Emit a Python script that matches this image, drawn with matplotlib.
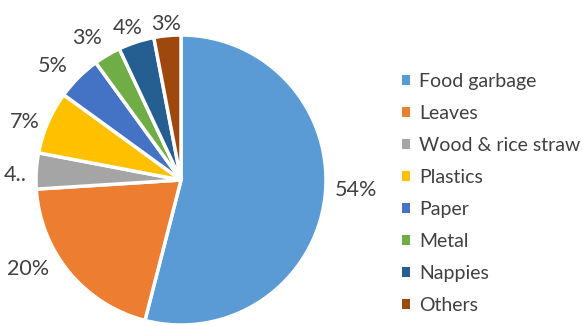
import numpy as np
import matplotlib
matplotlib.use("Agg")
import matplotlib.pyplot as plt
from matplotlib.patches import Patch

categories = ["Food garbage", "Leaves", "Wood & rice straw", "Plastics",
              "Paper", "Metal", "Nappies", "Others"]
shares = [54, 20, 4, 7, 5, 3, 4, 3]
labels = ["54%", "20%", "4..", "7%", "5%", "3%", "4%", "3%"]
colors = ["#5B9BD5", "#ED7D31", "#A5A5A5", "#FFC000",
          "#4472C4", "#70AD47", "#255E91", "#9E480E"]

# best-fit style placement: angular shift (degrees) and gap from rim to label box
label_shift = [4, -9.5, 2, 3, 3.5, 3, 1.5, 0]
label_gap = [0.062, 0.062, 0.062, 0.032, 0.062, 0.062, 0.012, 0.0]

plt.rcParams["font.family"] = ["Lato", "DejaVu Sans"]
text_color = "#404040"

fig = plt.figure(figsize=(5.82, 3.26), dpi=100)
ax = fig.add_axes([36 / 582, 1 / 326, 290 / 582, 290 / 326])
wedges, texts = ax.pie(
    shares, labels=labels, colors=colors, startangle=90, counterclock=False,
    wedgeprops=dict(edgecolor="white", linewidth=2.5),
    textprops=dict(color=text_color, fontsize=15.5),
)
ax.set_xlim(-1, 1)
ax.set_ylim(-1, 1)
ax.set_aspect("equal")

# place each label so that its box edge sits a given gap outside the rim
fig.canvas.draw()
renderer = fig.canvas.get_renderer()
px_per_unit = ax.transData.transform((1, 0))[0] - ax.transData.transform((0, 0))[0]
for w, t, shift, gap in zip(wedges, texts, label_shift, label_gap):
    ang = np.deg2rad((w.theta1 + w.theta2) / 2 + shift)
    ux, uy = np.cos(ang), np.sin(ang)
    bb = t.get_window_extent(renderer)
    half_w = bb.width / 2 / px_per_unit
    half_h = bb.height / 2 / px_per_unit
    d = 1 + gap + half_w * abs(ux) + half_h * abs(uy)
    t.set_position((d * ux, d * uy))
    t.set_horizontalalignment("center")
    t.set_verticalalignment("center")

handles = [Patch(facecolor=c, edgecolor="none") for c in colors]
fig.legend(handles, categories, loc="upper left", bbox_to_anchor=(394 / 582, 1 - 65 / 326),
           frameon=False, fontsize=14, labelcolor=text_color,
           handlelength=0.4, handleheight=0.4, handletextpad=0.5,
           labelspacing=0.77, borderaxespad=0)

fig.savefig("out.png", dpi=100)
